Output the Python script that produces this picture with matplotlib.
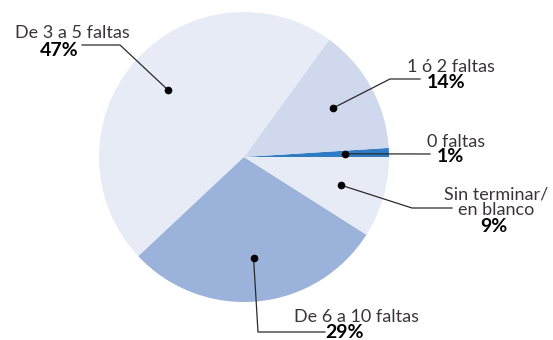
import numpy as np
import matplotlib.pyplot as plt

labels = ["0 faltas", "1 ó 2 faltas", "De 3 a 5 faltas", "De 6 a 10 faltas", "Sin terminar/\nen blanco"]
values = [1, 14, 47, 29, 9]
colors = ["#2f7cc4", "#cfd8ec", "#e6ebf5", "#9bb2db", "#e6ebf5"]

# label placement (pixel coords, y up), leader elbows
name_pos = [(456, 198), (451, 273), (72, 307), (356, 23), (496, 138)]
pct_pos = [(450, 183), (446, 258), (59, 290), (345, 7), (494, 113)]
elbows = [[(430, 186)],
          [(390, 261), (420, 261)],
          [(120, 295), (82, 295)],
          [(258, 8), (325, 8)],
          [(412, 132), (452, 132)]]

fig = plt.figure(figsize=(5.53, 3.4), dpi=100)
ax = fig.add_axes([0, 0, 1, 1])

cx, cy, R = 244, 183, 145
wedges, _ = ax.pie(values, colors=colors, startangle=0, counterclock=True,
                   center=(cx, cy), radius=R, frame=True,
                   wedgeprops=dict(linewidth=0))
ax.set_xlim(0, 553)
ax.set_ylim(0, 340)
ax.axis("off")

txt = "#3b3338"
for i, w in enumerate(wedges):
    mid = np.deg2rad((w.theta1 + w.theta2) / 2)
    dx, dy = cx + 0.7 * R * np.cos(mid), cy + 0.7 * R * np.sin(mid)
    pts = [(dx, dy)] + elbows[i]
    ax.plot([p[0] for p in pts], [p[1] for p in pts], color="#2a2a2a", lw=0.9, zorder=3)
    ax.plot(dx, dy, "o", color="black", ms=4.5, zorder=4)
    ax.text(*name_pos[i], labels[i], ha="center", va="center", fontsize=13,
            color=txt, family="Lato", linespacing=1.0)
    ax.text(*pct_pos[i], f"{values[i]}%", ha="center", va="center", fontsize=14,
            color="black", family="Lato", fontweight="bold")

fig.savefig("out.png", dpi=100)
